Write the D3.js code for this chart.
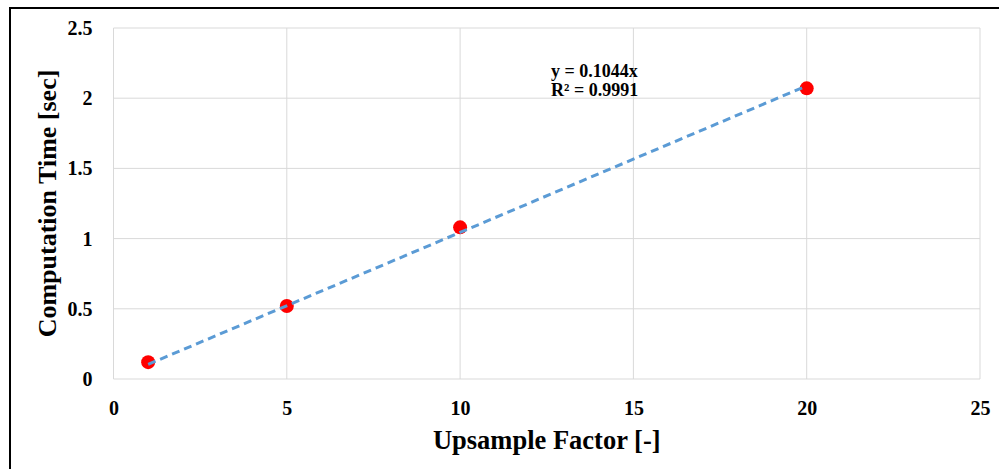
<!DOCTYPE html>
<html>
<head>
<meta charset="utf-8">
<script src="https://cdn.jsdelivr.net/npm/d3@7"></script>
<style>
  html, body { margin: 0; padding: 0; background: #fff; }
  svg text { font-family: "Liberation Serif", "Times New Roman", serif; font-weight: bold; fill: #000; }
</style>
</head>
<body>
<svg id="chart" width="999" height="469"></svg>
<script>
// data
let factors = [1, 5, 10, 20];
let times = [0.12, 0.52, 1.08, 2.07];
let slope = 0.1044;
let xTicks = [0, 5, 10, 15, 20, 25];
let yTicks = [0, 0.5, 1, 1.5, 2, 2.5];
let fitLabels = ["y = 0.1044x", "R\u00b2 = 0.9991"];

let svg = d3.select("#chart");

let margin = {top: 28, right: 19, bottom: 90, left: 113.5},
    width = +svg.attr("width") - margin.left - margin.right,
    height = +svg.attr("height") - margin.top - margin.bottom,
    g = svg.append("g").attr("transform", "translate(" + margin.left + "," + margin.top + ")");

// outer frame (only left and top edges show inside the window)
svg.append("path")
    .attr("d", "M10,469V8H999")
    .attr("fill", "none")
    .attr("stroke", "#000")
    .attr("stroke-width", 2);

let x = d3.scaleLinear().domain([0, 25]).range([0, width]),
    y = d3.scaleLinear().domain([0, 2.5]).range([height, 0]);

// gridlines
g.append("g")
    .selectAll("line")
    .data(xTicks)
    .enter().append("line")
    .attr("x1", d => x(d)).attr("x2", d => x(d))
    .attr("y1", 0).attr("y2", height)
    .attr("stroke", "#d9d9d9").attr("stroke-width", 1);

g.append("g")
    .selectAll("line")
    .data(yTicks)
    .enter().append("line")
    .attr("x1", 0).attr("x2", width)
    .attr("y1", d => y(d)).attr("y2", d => y(d))
    .attr("stroke", "#d9d9d9").attr("stroke-width", 1);

// axes (labels only)
let xAxis = g.append("g")
    .attr("transform", "translate(0," + height + ")")
    .call(d3.axisBottom(x).tickValues(xTicks).tickSize(0).tickPadding(22).tickFormat(d3.format("d")));
xAxis.select(".domain").remove();
xAxis.selectAll("text").style("font-size", "20px").style("font-family", null);

let yAxis = g.append("g")
    .call(d3.axisLeft(y).tickValues(yTicks).tickSize(0).tickPadding(21).tickFormat(d => String(d)));
yAxis.select(".domain").remove();
yAxis.selectAll("text").style("font-size", "20px").style("font-family", null);

// points
g.selectAll(".pt")
    .data(factors)
    .enter().append("circle")
    .attr("class", "pt")
    .attr("cx", d => x(d))
    .attr("cy", (d, i) => y(times[i]))
    .attr("r", 7)
    .attr("fill", "#ff0000");

// linear trendline, drawn over the markers
let line = d3.line()
    .x(d => x(d))
    .y(d => y(slope * d));

g.append("path")
    .datum([d3.min(factors), d3.max(factors)])
    .attr("d", line)
    .attr("fill", "none")
    .attr("stroke", "#5b9bd5")
    .attr("stroke-width", 3)
    .attr("stroke-dasharray", "8,5");

// equation label
svg.append("g")
    .selectAll("text")
    .data(fitLabels)
    .enter().append("text")
    .attr("x", 551)
    .attr("y", (d, i) => 77 + i * 19)
    .style("font-size", "18px")
    .text(d => d);

// axis titles
svg.append("text")
    .attr("x", margin.left + width / 2)
    .attr("y", 449)
    .attr("text-anchor", "middle")
    .style("font-size", "26.5px")
    .text("Upsample Factor [-]");

svg.append("text")
    .attr("transform", "translate(56," + (margin.top + height / 2) + ") rotate(-90)")
    .attr("text-anchor", "middle")
    .style("font-size", "26px")
    .text("Computation Time [sec]");
</script>
</body>
</html>
